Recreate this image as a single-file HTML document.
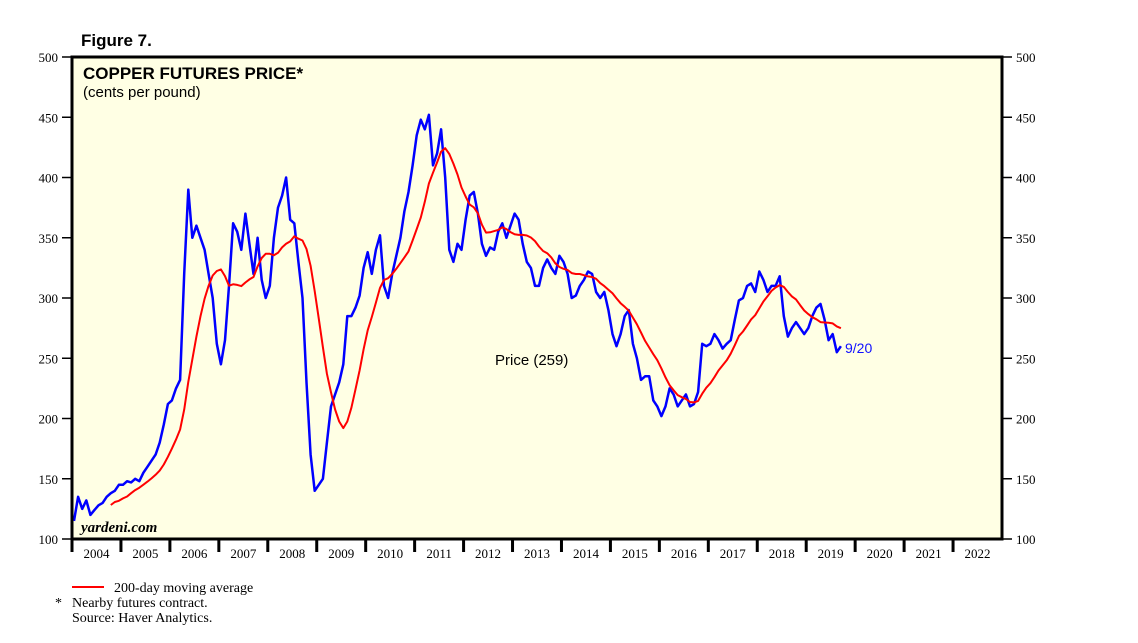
<!DOCTYPE html>
<html><head><meta charset="utf-8"><style>
body{margin:0;background:#fff;}
svg{display:block;}
.ser{font-family:"Liberation Serif",serif;}
.san{font-family:"Liberation Sans",sans-serif;}
</style></head><body>
<svg id="c" width="1138" height="643" viewBox="0 0 1138 643">
<rect x="72" y="57" width="930" height="482" fill="#ffffe4"/>
<text x="81" y="46" class="san" font-size="17" font-weight="bold">Figure 7.</text>
<text x="83" y="79" class="san" font-size="17" font-weight="bold">COPPER FUTURES PRICE*</text>
<text x="83" y="97" class="san" font-size="15">(cents per pound)</text>
<text x="81" y="532" class="ser" font-size="15" font-style="italic" font-weight="bold">yardeni.com</text>
<g id="axes"></g>
<g id="marks"></g>
<rect x="72" y="57" width="930" height="482" fill="none" stroke="#000" stroke-width="3"/>
<text x="495" y="365" class="san" font-size="15">Price (259)</text>
<text x="845" y="353" class="san" font-size="14" fill="#1010ff">9/20</text>
<line x1="72" y1="587" x2="104" y2="587" stroke="#f00" stroke-width="2"/>
<text x="114" y="592" class="ser" font-size="14">200-day moving average</text>
<text x="55" y="607" class="ser" font-size="14">*</text>
<text x="72" y="607" class="ser" font-size="14">Nearby futures contract.</text>
<text x="72" y="622" class="ser" font-size="14">Source: Haver Analytics.</text>
</svg>
<script>
const startYear = 2004;
const yearLabels = ["2004","2005","2006","2007","2008","2009","2010","2011","2012","2013","2014","2015","2016","2017","2018","2019","2020","2021","2022"];
const yTicks = [100,150,200,250,300,350,400,450,500];
const price2004 = [115,135,125,132,120,124,128,130,135,138,140,145];
const price2005 = [145,148,147,150,148,155,160,165,170,180,195,212];
const price2006 = [215,225,232,320,390,350,360,350,340,320,300,262];
const price2007 = [245,265,310,362,355,340,370,345,320,350,315,300];
const price2008 = [310,350,375,385,400,365,362,330,300,230,170,140];
const price2009 = [145,150,180,210,220,230,245,285,285,292,302,325];
const price2010 = [338,320,340,352,310,300,320,335,350,372,388,410];
const price2011 = [435,448,440,452,410,420,440,400,340,330,345,340];
const price2012 = [365,385,388,370,345,335,342,340,355,362,350,360];
const price2013 = [370,365,345,330,325,310,310,325,332,325,320,335];
const price2014 = [330,320,300,302,310,315,322,320,305,300,305,290];
const price2015 = [270,260,270,285,290,262,250,232,235,235,215,210];
const price2016 = [202,210,225,220,210,215,220,210,212,222,262,260];
const price2017 = [262,270,265,258,262,265,282,298,300,310,312,305];
const price2018 = [322,315,305,310,310,318,285,268,275,280,275,270];
const price2019 = [275,285,292,295,282,265,270,255,260];
const prices = [].concat(price2004,price2005,price2006,price2007,price2008,price2009,price2010,price2011,price2012,price2013,price2014,price2015,price2016,price2017,price2018,price2019);
const maWindow = 10;

const X0=72,X1=1002,Y0=539,Y1=57;
const xScale = t => X0 + (t - startYear) * (X1 - X0) / yearLabels.length;
const yScale = v => Y0 - (v - 100) * (Y0 - Y1) / 400;
const NS="http://www.w3.org/2000/svg";
const axes=document.getElementById('axes'), marks=document.getElementById('marks');
function mk(tag, attrs, parent){const e=document.createElementNS(NS,tag);for(const k in attrs)e.setAttribute(k,attrs[k]);parent.appendChild(e);return e;}

yTicks.forEach(v=>{
  const y=yScale(v);
  const l=mk('line',{x1:62,x2:72,y1:y,y2:y,stroke:'#000','stroke-width':1.5},axes);
  
  
  const r=mk('line',{x1:1002,x2:1012,y1:y,y2:y,stroke:'#000','stroke-width':1.5},axes);
  
  
  const t=mk('text',{x:58,y:y+5,'text-anchor':'end','font-size':13,'class':'ser'},axes);
  t.textContent=v;
  
  
  const t2=mk('text',{x:1016,y:y+5,'font-size':13,'class':'ser'},axes);
  t2.textContent=v;
  
  
});
yearLabels.forEach((lab,i)=>{
  const x=xScale(startYear+i);
  const l=mk('line',{x1:x,x2:x,y1:539,y2:552,stroke:'#000','stroke-width':3},axes);
  
  
  const t=mk('text',{x:xScale(startYear+i+0.5),y:558,'text-anchor':'middle','font-size':13,'class':'ser'},axes);
  t.textContent=lab;
  
  
});

const tOf = i => startYear + (i + 0.5) / 12;
let d='';
prices.forEach((v,i)=>{d+=(i?'L':'M')+xScale(tOf(i)).toFixed(1)+','+yScale(v).toFixed(1);});
const ma=[];
for(let i=maWindow-1;i<prices.length;i++){let s=0;for(let j=i-maWindow+1;j<=i;j++)s+=prices[j];ma.push([i,s/maWindow]);}
let dm='';
ma.forEach((p,k)=>{dm+=(k?'L':'M')+xScale(tOf(p[0])).toFixed(1)+','+yScale(p[1]).toFixed(1);});
const pl=mk('path',{d:d,fill:'none',stroke:'#0000ff','stroke-width':2.5,'stroke-linejoin':'round'},marks);


const ml=mk('path',{d:dm,fill:'none',stroke:'#ff0000','stroke-width':2,'stroke-linejoin':'round'},marks);


</script>
</body></html>
